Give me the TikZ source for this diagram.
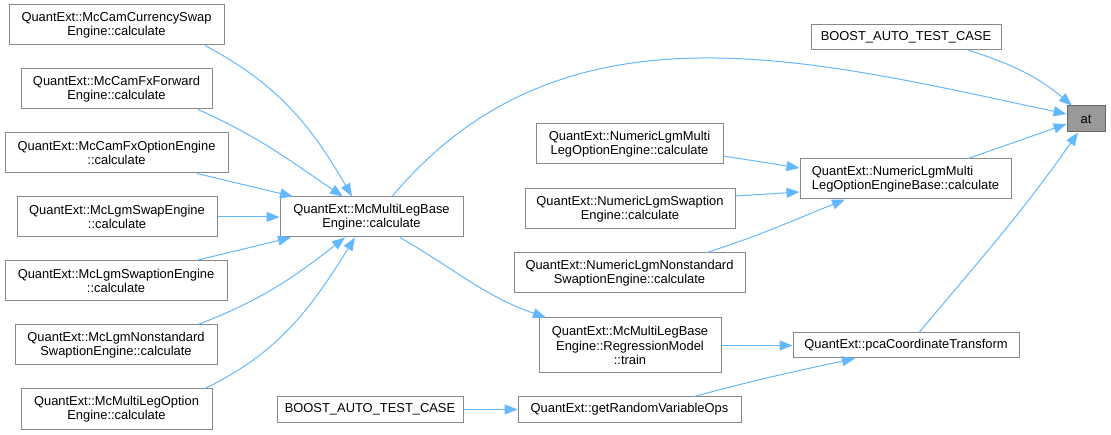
\documentclass[tikz,border=0pt]{standalone}
\usepackage{fontspec}
\setmainfont{Liberation Sans}
\usepackage{tikz}
\usetikzlibrary{arrows.meta}
\usepackage{xcolor}
\definecolor{edgeblue}{HTML}{63B8FF}
\definecolor{frame}{HTML}{888888}
\definecolor{selgray}{HTML}{999999}

\begin{document}
\begin{tikzpicture}[
  x=1pt, y=-1pt,
  box/.style={
    rectangle, draw=frame, fill=white, line width=1pt,
    inner sep=0pt, align=center,
    font=\fontsize{12.9}{14.3}\selectfont
  },
  two/.style={box, minimum height=40pt},
  one/.style={box, minimum height=25pt},
  three/.style={box, minimum height=55pt},
  target/.style={one, fill=selgray, draw=frame!75!black, minimum height=26pt},
  arr/.style={-{Triangle[length=13pt,width=10pt]}, line width=1pt, edgeblue}
]
\useasboundingbox (0,0) rectangle (1111,435);

\node[two, minimum width=215pt] (cur) at (116.5,25) {QuantExt::McCamCurrencySwap\\Engine::calculate};
\node[two, minimum width=191pt] (fwd) at (116.5,89) {QuantExt::McCamFxForward\\Engine::calculate};
\node[two, minimum width=223pt] (fxopt) at (116.5,153) {QuantExt::McCamFxOptionEngine\\::calculate};
\node[two, minimum width=200pt] (lgmswap) at (117,217) {QuantExt::McLgmSwapEngine\\::calculate};
\node[two, minimum width=222pt] (lgmswaption) at (116,281) {QuantExt::McLgmSwaptionEngine\\::calculate};
\node[two, minimum width=202pt] (lgmnonstd) at (116,345) {QuantExt::McLgmNonstandard\\SwaptionEngine::calculate};
\node[two, minimum width=191pt] (mlopt) at (116.5,409) {QuantExt::McMultiLegOption\\Engine::calculate};

\node[two, minimum width=183pt] (mlbase) at (371.5,217) {QuantExt::McMultiLegBase\\Engine::calculate};
\node[one, minimum width=186pt] (boostb) at (370,409.5) {BOOST\_AUTO\_TEST\_CASE};

\node[two, minimum width=187pt] (numopt) at (629.5,144) {QuantExt::NumericLgmMulti\\LegOptionEngine::calculate};
\node[two, minimum width=210pt] (numswaption) at (630,209) {QuantExt::NumericLgmSwaption\\Engine::calculate};
\node[two, minimum width=231pt] (numnonstd) at (629.5,273) {QuantExt::NumericLgmNonstandard\\SwaptionEngine::calculate};
\node[three, minimum width=182pt] (train) at (630,345.5) {QuantExt::McMultiLegBase\\Engine::RegressionModel\\::train};
\node[one, minimum width=223pt] (randops) at (629.5,409.5) {QuantExt::getRandomVariableOps};

\node[two, minimum width=211pt, align=left] (numbase) at (905.5,179) {QuantExt::NumericLgmMulti\\LegOptionEngineBase::calculate};
\node[one, minimum width=226pt] (pca) at (906,345.5) {QuantExt::pcaCoordinateTransform};
\node[one, minimum width=190pt] (boostt) at (906,37) {BOOST\_AUTO\_TEST\_CASE};

\node[target, minimum width=38pt] (at) at (1086,119) {at};

\draw[arr] ([xshift=88.5pt]cur.south) to[out=-28, in=120] ([xshift=-19.5pt]mlbase.north);
\draw[arr] ([xshift=81.5pt]fwd.south) to[out=-24, in=146] ([xshift=-28.5pt]mlbase.north);
\draw[arr] ([xshift=80.5pt]fxopt.south) -- ([xshift=-78.5pt]mlbase.north);
\draw[arr] (lgmswap.east) -- (mlbase.west);
\draw[arr] ([xshift=80pt]lgmswaption.north) -- ([xshift=-80.5pt]mlbase.south);
\draw[arr] ([xshift=82pt]lgmnonstd.north) to[out=21, in=218] ([xshift=-26.5pt]mlbase.south);
\draw[arr] ([xshift=88.5pt]mlopt.north) to[out=26, in=238] ([xshift=-16.5pt]mlbase.south);

\draw[arr] ([xshift=28.5pt]mlbase.south) to[out=-30, in=161] ([xshift=-84pt]train.north);
\draw[arr] ([xshift=20.5pt]mlbase.north) to[out=50, in=168] ([yshift=5pt]at.west);
\draw[arr] (boostb.east) -- (randops.west);

\draw[arr] ([yshift=-12pt]numopt.east) -- ([yshift=11pt]numbase.west);
\draw[arr] ([yshift=13pt]numswaption.east) -- ([yshift=-13pt]numbase.west);
\draw[arr] ([xshift=77.5pt]numnonstd.north) to[out=18, in=202] ([xshift=-60.5pt]numbase.south);
\draw[arr] (train.east) -- (pca.west);
\draw[arr] ([xshift=64.5pt]randops.north) to[out=15, in=192] ([xshift=-51pt]pca.south);

\draw[arr] ([xshift=62pt]boostt.south) to[out=-18, in=140] ([xshift=-14pt]at.north);
\draw[arr] ([xshift=62.5pt]numbase.north) -- ([yshift=-5pt]at.west);
\draw[arr] ([xshift=13pt]pca.north) to[out=50, in=235] ([xshift=-8pt]at.south);

\end{tikzpicture}
\end{document}
